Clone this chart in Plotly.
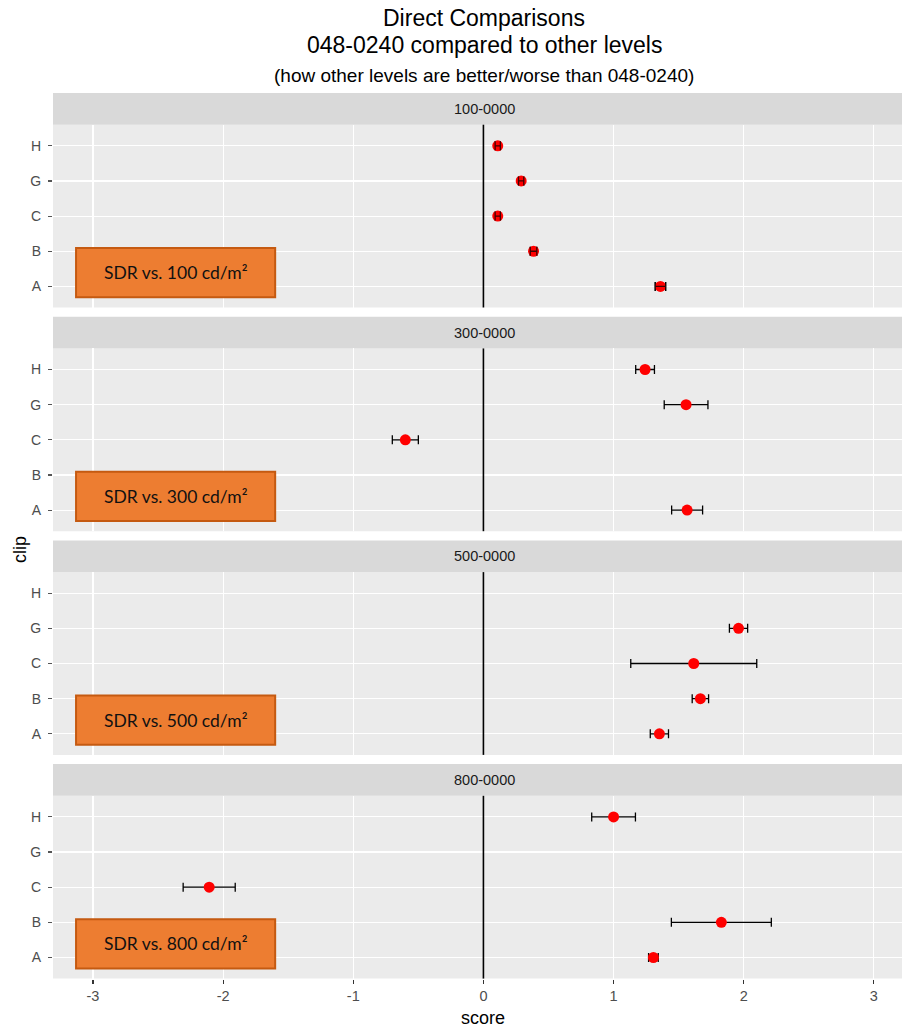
import plotly.graph_objects as go

# ---------------- data ----------------
categories = ["A", "B", "C", "G", "H"]
panels = ["100-0000", "300-0000", "500-0000", "800-0000"]
box_labels = ["SDR vs. 100 cd/m²", "SDR vs. 300 cd/m²", "SDR vs. 500 cd/m²", "SDR vs. 800 cd/m²"]

score_100 = [1.36, 0.385, 0.11, 0.29, 0.11]
err_100 = [0.04, 0.025, 0.02, 0.02, 0.02]
score_300 = [1.565, None, -0.60, 1.557, 1.242]
err_300 = [0.119, None, 0.10, 0.168, 0.072]
score_500 = [1.352, 1.667, 1.616, 1.96, None]
err_500 = [0.07, 0.063, 0.484, 0.07, None]
score_800 = [1.306, 1.828, -2.107, None, 1.0]
err_800 = [0.037, 0.384, 0.20, None, 0.168]

scores = [score_100, score_300, score_500, score_800]
errors = [err_100, err_300, err_500, err_800]

x_ticks = [-3, -2, -1, 0, 1, 2, 3]
x_tick_labels = ["-3", "-2", "-1", "0", "1", "2", "3"]
title_line1 = "Direct Comparisons"
title_line2 = "048-0240 compared to other levels"
subtitle = "(how other levels are better/worse than 048-0240)"
x_title = "score"
y_title = "clip"

# ---------------- layout geometry ----------------
W, H = 902, 1027
ML = 53
PW = W - ML


def py(px):
    return 1 - px / H


def pxp(px):
    return (px - ML) / PW


XR = [-3.307, 3.216]
STRIP_TOP0 = 93.0
STEP = 223.7
STRIP_H = 31.7
PANEL_H = 182.8

FONT = "Liberation Sans, Arial, sans-serif"

fig = go.Figure()
shapes = []
annotations = []

for i, name in enumerate(panels):
    n = i + 1
    xa = "x" if n == 1 else f"x{n}"
    ya = "y" if n == 1 else f"y{n}"
    strip_top = STRIP_TOP0 + i * STEP
    top = strip_top + STRIP_H
    bot = top + PANEL_H

    fig.add_trace(go.Scatter(
        x=scores[i], y=categories, mode="markers",
        marker=dict(color="#FF0000", size=11, line=dict(width=0)),
        error_x=dict(type="data", array=errors[i], visible=True,
                     color="#000000", thickness=1.3, width=4.5),
        xaxis=xa, yaxis=ya, showlegend=False, cliponaxis=False,
        hoverinfo="skip",
    ))
    if i == 0:
        # in the first panel the error bars are visible on top of the points
        fig.add_trace(go.Scatter(
            x=scores[i], y=categories, mode="markers",
            marker=dict(color="rgba(0,0,0,0)", size=1),
            error_x=dict(type="data", array=errors[i], visible=True,
                         color="rgba(0,0,0,0.75)", thickness=1.3, width=4.5),
            xaxis=xa, yaxis=ya, showlegend=False, cliponaxis=False,
            hoverinfo="skip",
        ))

    last = (i == len(panels) - 1)
    fig.layout[("xaxis" if n == 1 else f"xaxis{n}")] = dict(
        domain=[0, 1], anchor=ya, range=XR,
        tickmode="array", tickvals=x_ticks, ticktext=x_tick_labels,
        showgrid=True, gridcolor="#FFFFFF", gridwidth=1.1,
        zeroline=False, showline=False,
        showticklabels=last, ticks="outside" if last else "",
        ticklen=4, tickwidth=1.1, tickcolor="#333333",
        tickfont=dict(family=FONT, size=14.5, color="#4D4D4D"),
        fixedrange=True,
    )
    fig.layout[("yaxis" if n == 1 else f"yaxis{n}")] = dict(
        domain=[py(bot), py(top)], anchor=xa,
        type="category", categoryorder="array", categoryarray=categories,
        range=[-0.6, 4.6],
        showgrid=True, gridcolor="#FFFFFF", gridwidth=1.1,
        zeroline=False, showline=False,
        ticks="outside", ticklen=4, tickwidth=1.1, tickcolor="#555555",
        ticklabelstandoff=4,
        tickfont=dict(family=FONT, size=14, color="#4D4D4D"),
        fixedrange=True,
    )

    # panel background
    shapes.append(dict(type="rect", xref="paper", yref="paper",
                       x0=0, x1=1, y0=py(bot), y1=py(top),
                       fillcolor="#EBEBEB", line=dict(width=0), layer="below"))
    # strip
    shapes.append(dict(type="rect", xref="paper", yref="paper",
                       x0=0, x1=1, y0=py(top), y1=py(strip_top),
                       fillcolor="#D9D9D9", line=dict(width=0), layer="below"))
    annotations.append(dict(text=name, xref="paper", yref="paper",
                            x=pxp(484), y=py(strip_top + STRIP_H / 2),
                            xanchor="center", yanchor="middle", showarrow=False,
                            font=dict(family=FONT, size=14.5, color="#1A1A1A")))
    # vertical line at 0
    shapes.append(dict(type="line", xref=xa, yref=f"{ya} domain",
                       x0=0, x1=0, y0=0, y1=1,
                       line=dict(color="#000000", width=1.6), layer="above"))
    # orange label box
    shapes.append(dict(type="rect", xref=xa, yref=ya,
                       x0=-3.13, x1=-1.60, y0=-0.31, y1=1.09,
                       fillcolor="#ED7D31", line=dict(color="#C55A11", width=2),
                       layer="above"))
    annotations.append(dict(text=box_labels[i], xref=xa, yref=ya,
                            x=(-3.13 - 1.60) / 2, y=0.39,
                            xanchor="center", yanchor="middle", showarrow=False,
                            font=dict(family="Lato, Carlito, sans-serif", size=17.5, color="#111111")))

# titles
annotations.append(dict(text=title_line1, xref="paper", yref="paper",
                        x=pxp(484), y=py(18), xanchor="center", yanchor="middle",
                        showarrow=False, font=dict(family=FONT, size=23, color="#000000")))
annotations.append(dict(text=title_line2, xref="paper", yref="paper",
                        x=pxp(484), y=py(45), xanchor="center", yanchor="middle",
                        showarrow=False, font=dict(family=FONT, size=23, color="#000000")))
annotations.append(dict(text=subtitle, xref="paper", yref="paper",
                        x=pxp(484), y=py(76), xanchor="center", yanchor="middle",
                        showarrow=False, font=dict(family=FONT, size=19, color="#000000")))
annotations.append(dict(text=x_title, xref="paper", yref="paper",
                        x=pxp(483), y=py(1018), xanchor="center", yanchor="middle",
                        showarrow=False, font=dict(family=FONT, size=18, color="#000000")))
annotations.append(dict(text=y_title, xref="paper", yref="paper",
                        x=pxp(20), y=py(550), xanchor="center", yanchor="middle",
                        textangle=-90, showarrow=False,
                        font=dict(family=FONT, size=18, color="#000000")))

fig.update_layout(
    width=W, height=H,
    margin=dict(l=ML, r=0, t=0, b=0, autoexpand=False),
    paper_bgcolor="#FFFFFF", plot_bgcolor="rgba(0,0,0,0)",
    shapes=shapes, annotations=annotations,
    showlegend=False, hovermode=False,
)

fig.write_html(
    "out.html",
    config={"displayModeBar": False, "staticPlot": True},
    post_script="document.body.style.margin='0px';document.body.style.overflow='hidden';",
)
